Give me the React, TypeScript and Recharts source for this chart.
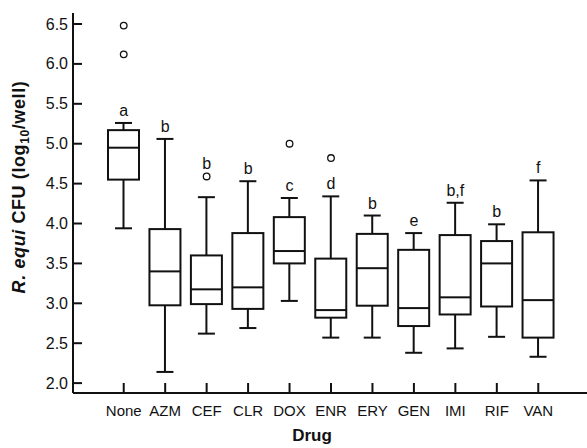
import { ComposedChart, Bar, Scatter, XAxis, YAxis } from "recharts";

const drugs = ["None", "AZM", "CEF", "CLR", "DOX", "ENR", "ERY", "GEN", "IMI", "RIF", "VAN"];
const whiskerLow = [3.94, 2.14, 2.62, 2.69, 3.03, 2.57, 2.57, 2.38, 2.435, 2.58, 2.33];
const q1 = [4.55, 2.975, 2.99, 2.93, 3.5, 2.82, 2.97, 2.715, 2.86, 2.96, 2.57];
const median = [4.95, 3.4, 3.175, 3.2, 3.655, 2.915, 3.44, 2.94, 3.075, 3.5, 3.04];
const q3 = [5.17, 3.93, 3.6, 3.88, 4.08, 3.56, 3.87, 3.67, 3.855, 3.78, 3.89];
const whiskerHigh = [5.26, 5.06, 4.33, 4.53, 4.32, 4.34, 4.1, 3.88, 4.26, 3.99, 4.54];
const letters = ["a", "b", "b", "b", "c", "d", "b", "e", "b,f", "b", "f"];
const outliers = [
  { drug: "None", value: 6.48 },
  { drug: "None", value: 6.12 },
  { drug: "CEF", value: 4.59 },
  { drug: "DOX", value: 5.0 },
  { drug: "ENR", value: 4.82 },
];
const yTicks = [2.0, 2.5, 3.0, 3.5, 4.0, 4.5, 5.0, 5.5, 6.0, 6.5];

const INK = "#111";
const FONT = "'Liberation Sans', Arial, sans-serif";

const rows = drugs.map((drug, i) => ({
  drug,
  range: [whiskerLow[i], whiskerHigh[i]],
  lo: whiskerLow[i],
  q1: q1[i],
  med: median[i],
  q3: q3[i],
  hi: whiskerHigh[i],
}));

// letter sits above the whisker, or above an outlier that hugs the whisker
const labelRows = drugs.map((drug, i) => {
  const near = outliers
    .filter((o) => o.drug === drug && o.value - whiskerHigh[i] < 0.3)
    .map((o) => o.value);
  return { drug, value: Math.max(whiskerHigh[i], ...near), letter: letters[i] };
});

function BoxShape(props: any) {
  const { x, y, width, height, payload } = props;
  const top = Math.min(y, y + height);
  const h = Math.abs(height);
  const { lo, hi } = payload;
  const py = (v: number) => top + (h * (hi - v)) / (hi - lo);
  const cx = x + width / 2;
  const cap = 8.5;
  return (
    <g stroke={INK} strokeWidth={2} fill="none">
      <line x1={cx} x2={cx} y1={py(hi)} y2={py(payload.q3)} />
      <line x1={cx} x2={cx} y1={py(payload.q1)} y2={py(lo)} />
      <line x1={cx - cap} x2={cx + cap} y1={py(hi)} y2={py(hi)} />
      <line x1={cx - cap} x2={cx + cap} y1={py(lo)} y2={py(lo)} />
      <rect x={x} y={py(payload.q3)} width={width} height={py(payload.q1) - py(payload.q3)} />
      <line x1={x} x2={x + width} y1={py(payload.med)} y2={py(payload.med)} />
    </g>
  );
}

function OutlierShape(props: any) {
  const { cx, cy } = props;
  return <circle cx={cx} cy={cy} r={3.3} fill="#fff" stroke={INK} strokeWidth={1.3} />;
}

function LetterShape(props: any) {
  const { cx, cy, payload } = props;
  return (
    <text x={cx} y={cy - 7} textAnchor="middle" fontSize={16} fill={INK} fontFamily={FONT}>
      {payload.letter}
    </text>
  );
}

function YTick(props: any) {
  const { x, y, payload } = props;
  return (
    <g>
      <line x1={x + 5} x2={x + 14} y1={y} y2={y} stroke={INK} strokeWidth={2} />
      <text x={x} y={y} dy={5.5} textAnchor="end" fontSize={16} fill={INK} fontFamily={FONT}>
        {Number(payload.value).toFixed(1)}
      </text>
    </g>
  );
}

function XTick(props: any) {
  const { x, y, payload } = props;
  return (
    <g>
      <line x1={x} x2={x} y1={y - 4} y2={y - 14} stroke={INK} strokeWidth={2} />
      <text x={x} y={y} dy={19} textAnchor="middle" fontSize={15} fill={INK} fontFamily={FONT}>
        {payload.value}
      </text>
    </g>
  );
}

export default function App() {
  return (
    <div style={{ position: "absolute", left: 0, top: 0, width: 587, height: 448, background: "#fff" }}>
      <ComposedChart
        width={587}
        height={448}
        data={rows}
        margin={{ top: 13, right: 0, bottom: 0, left: 0 }}
      >
        <XAxis
          dataKey="drug"
          type="category"
          allowDuplicatedCategory={false}
          height={55}
          padding={{ left: 30, right: 28 }}
          axisLine={{ stroke: INK, strokeWidth: 2 }}
          tickLine={false}
          tickSize={0}
          tickMargin={4}
          interval={0}
          tick={<XTick />}
          label={{
            content: () => (
              <text x={312} y={441} textAnchor="middle" fontSize={17} fontWeight="bold" fill={INK} fontFamily={FONT}>
                Drug
              </text>
            ),
          }}
        />
        <YAxis
          type="number"
          width={73}
          domain={[1.876, 6.638]}
          ticks={yTicks}
          allowDataOverflow
          axisLine={{ stroke: INK, strokeWidth: 2 }}
          tickLine={false}
          tickSize={0}
          tickMargin={5}
          tick={<YTick />}
          label={{
            content: () => (
              <text
                transform="translate(25, 187) rotate(-90)"
                x={0}
                y={0}
                textAnchor="middle"
                fontSize={18}
                letterSpacing={0.6}
                fontWeight="bold"
                fill={INK}
                fontFamily={FONT}
              >
                <tspan fontStyle="italic">R. equi</tspan> CFU (log
                <tspan dy={4} fontSize={12}>10</tspan>
                <tspan dy={-4}>/well)</tspan>
              </text>
            ),
          }}
        />
        <Bar dataKey="range" barSize={31} shape={<BoxShape />} isAnimationActive={false} />
        <Scatter data={outliers} dataKey="value" shape={<OutlierShape />} isAnimationActive={false} />
        <Scatter data={labelRows} dataKey="value" shape={<LetterShape />} isAnimationActive={false} />
      </ComposedChart>
    </div>
  );
}
